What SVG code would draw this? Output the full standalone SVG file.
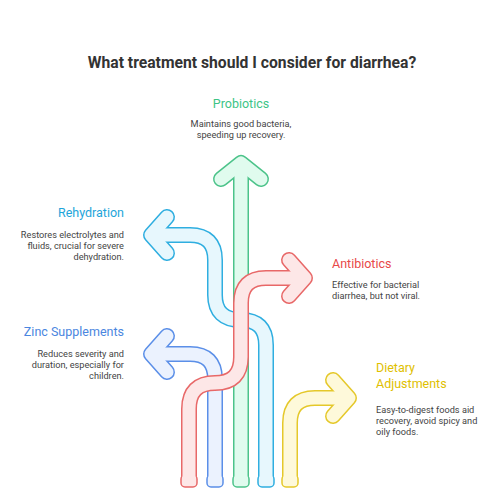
<svg xmlns="http://www.w3.org/2000/svg" width="500" height="500" viewBox="0 0 500 500">
<style>
.o{fill:none;stroke-width:16;stroke-linejoin:round}
.f{fill:none;stroke-width:13;stroke-linejoin:round}
.sh{stroke-linecap:butt}
.hd{stroke-linecap:round}
.cap{stroke-width:1.5}
text{font-family:Roboto,"Liberation Sans",sans-serif}
.t{font-size:15.7px;font-weight:bold;fill:#333}
.h{font-size:12.5px}
.d{font-size:9.2px;fill:#444}
.g .o,.g .cap{stroke:#4CC38A}.g .f{stroke:#E0FBEE}.g .cap{fill:#E0FBEE}
.r .o,.r .cap{stroke:#E86868}.r .f{stroke:#FDE7E7}.r .cap{fill:#FDE7E7}
.b .o,.b .cap{stroke:#5B8FE8}.b .f{stroke:#EBF2FE}.b .cap{fill:#EBF2FE}
.s .o,.s .cap{stroke:#2FAEE0}.s .f{stroke:#E7F7FD}.s .cap{fill:#E7F7FD}
.y .o,.y .cap{stroke:#E5C82A}.y .f{stroke:#FEF9DA}.y .cap{fill:#FEF9DA}
</style>
<rect width="500" height="500" fill="#fff"/>
<text class="t" x="252" y="68" text-anchor="middle">What treatment should I consider for diarrhea?</text>
<g id="connectors">
<g id="arrow-probiotics" class="g">
<path class="o sh" d="M241 483V170"/><path class="o hd" d="M221 179L241 163L261 179"/>
<rect class="cap" x="233" y="475" width="16" height="12" rx="4"/>
<path class="f sh" d="M241 483V170"/><path class="f hd" d="M221 179L241 163L261 179"/>
</g>
<g id="arrow-rehydration" class="s">
<path class="o sh" d="M266 483V345Q266 320 241 320Q215 320 215 295V260Q215 235 190 235H157"/><path class="o hd" d="M167 217L151 235L167 253"/>
<rect class="cap" x="258" y="475" width="16" height="12" rx="4"/>
<path class="f sh" d="M266 483V345Q266 320 241 320Q215 320 215 295V260Q215 235 190 235H157"/><path class="f hd" d="M167 217L151 235L167 253"/>
</g>
<g id="arrow-zinc" class="b">
<path class="o sh" d="M215 483V379Q215 354 190 354H157"/><path class="o hd" d="M167 336L151 354L167 372"/>
<rect class="cap" x="207" y="475" width="16" height="12" rx="4"/>
<path class="f sh" d="M215 483V379Q215 354 190 354H157"/><path class="f hd" d="M167 336L151 354L167 372"/>
</g>
<g id="arrow-dietary" class="y">
<path class="o sh" d="M290 483V423Q290 398 315 398H343"/><path class="o hd" d="M333 380L349 398L333 416"/>
<rect class="cap" x="282" y="475" width="16" height="12" rx="4"/>
<path class="f sh" d="M290 483V423Q290 398 315 398H343"/><path class="f hd" d="M333 380L349 398L333 416"/>
</g>
<g id="arrow-antibiotics" class="r">
<path class="o sh" d="M189 483V409Q189 383 215 383Q241 383 241 357V303Q241 278 266 278H299"/><path class="o hd" d="M289 260L305 278L289 296"/>
<rect class="cap" x="181" y="475" width="16" height="12" rx="4"/>
<path class="f sh" d="M189 483V409Q189 383 215 383Q241 383 241 357V303Q241 278 266 278H299"/><path class="f hd" d="M289 260L305 278L289 296"/>
</g>
</g>
<g id="node-probiotics" text-anchor="middle">
<text class="h" x="241" y="108" fill="#3CC486">Probiotics</text>
<text class="d" x="241" y="127">Maintains good bacteria,</text>
<text class="d" x="241" y="138">speeding up recovery.</text>
</g>
<g id="node-rehydration" text-anchor="end">
<text class="h" x="124" y="217" fill="#1EA5DA">Rehydration</text>
<text class="d" x="124" y="238">Restores electrolytes and</text>
<text class="d" x="124" y="249">fluids, crucial for severe</text>
<text class="d" x="124" y="260">dehydration.</text>
</g>
<g id="node-zinc" text-anchor="end">
<text class="h" x="124" y="336" fill="#4A86E0">Zinc Supplements</text>
<text class="d" x="124" y="357">Reduces severity and</text>
<text class="d" x="124" y="368">duration, especially for</text>
<text class="d" x="124" y="379">children.</text>
</g>
<g id="node-antibiotics">
<text class="h" x="332" y="268" fill="#E84848">Antibiotics</text>
<text class="d" x="332" y="288">Effective for bacterial</text>
<text class="d" x="332" y="299">diarrhea, but not viral.</text>
</g>
<g id="node-dietary">
<text class="h" x="376" y="372" fill="#E0C000">Dietary</text>
<text class="h" x="376" y="388" fill="#E0C000">Adjustments</text>
<text class="d" x="376" y="413">Easy-to-digest foods aid</text>
<text class="d" x="376" y="424">recovery, avoid spicy and</text>
<text class="d" x="376" y="435">oily foods.</text>
</g>
</svg>
